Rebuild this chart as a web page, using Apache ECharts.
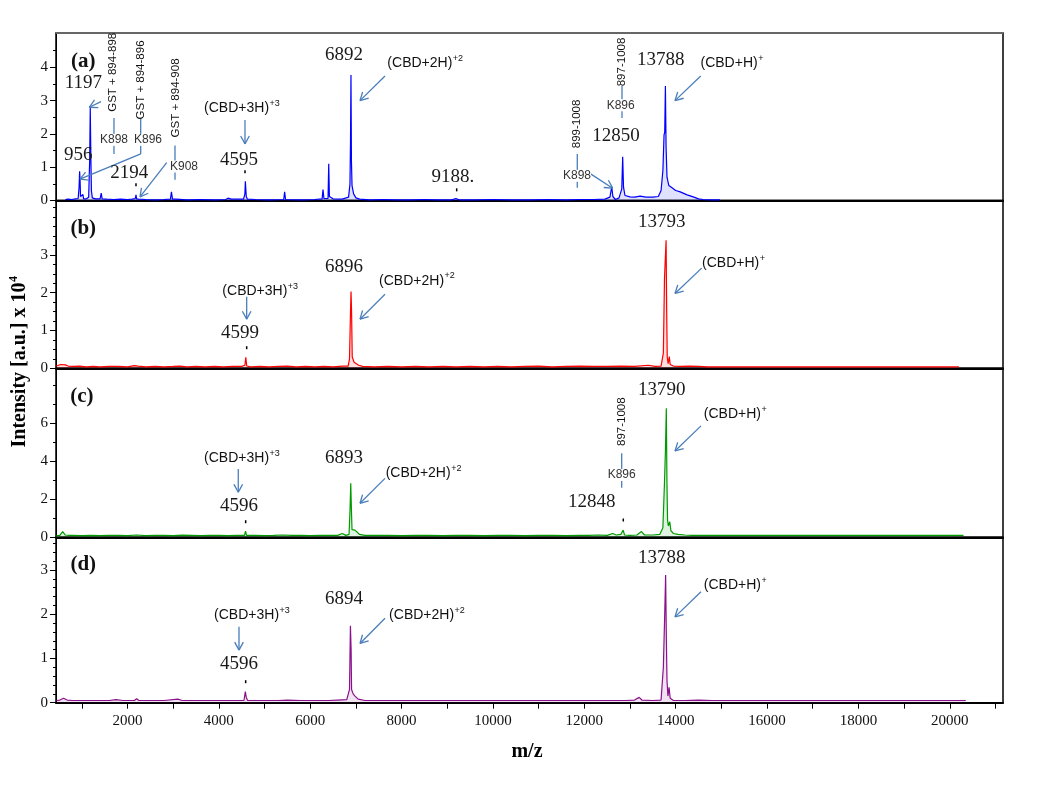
<!DOCTYPE html>
<html><head><meta charset="utf-8">
<script src="https://cdn.jsdelivr.net/npm/echarts@6/dist/echarts.min.js"></script>
<style>html,body{margin:0;padding:0;background:#fff}#c{width:1050px;height:793px}</style>
</head><body><div id="c"></div>
<script>
// ---------- axis values ----------
const mzMin = 435, mzMax = 21165;
const xTickValues = [1000,2000,3000,4000,5000,6000,7000,8000,9000,10000,11000,12000,13000,14000,15000,16000,17000,18000,19000,20000,21000];
const xLabelValues = [2000,4000,6000,8000,10000,12000,14000,16000,18000,20000];
const yMax = [5.03, 4.44, 8.89, 3.74];
const yLabelValues = [[0,1,2,3,4],[0,1,2,3],[0,2,4,6],[0,1,2,3]];
const yMinorValues = [
  [0.5,1.5,2.5,3.5,4.5],
  [0.25,0.5,0.75,1.25,1.5,1.75,2.25,2.5,2.75,3.25,3.5,3.75,4,4.25],
  [1,3,5,7,8],
  [0.2,0.4,0.6,0.8,1.2,1.4,1.6,1.8,2.2,2.4,2.6,2.8,3.2,3.4,3.6]
];
const panelNames = ['(a)','(b)','(c)','(d)'];
const panelNamePos = [[1032,4.16],[1032,3.70],[1000,7.40],[1032,3.12]];
const colors = ['#0000ff','#ff0000','#009a00','#8b108b'];

// ---------- spectra [m/z, intensity x1e4] ----------
const specA = [[640,0.03],[700,0.04],[780,0.03],[860,0.05],[920,0.06],[940,0.4],[952,0.88],[962,0.6],[972,0.12],[1000,0.06],[1025,0.18],[1040,0.05],[1100,0.05],[1150,0.1],[1172,1.2],[1185,2.8],[1197,1.4],[1210,0.3],[1230,0.08],[1300,0.05],[1400,0.05],[1425,0.22],[1445,0.05],[1550,0.04],[1700,0.03],[1850,0.04],[2000,0.03],[2100,0.04],[2170,0.06],[2186,0.17],[2200,0.05],[2245,0.04],[2258,0.1],[2272,0.03],[2400,0.03],[2600,0.02],[2800,0.03],[2940,0.04],[2962,0.26],[2985,0.04],[3060,0.04],[3077,0.1],[3095,0.03],[3300,0.02],[3600,0.03],[3900,0.02],[4150,0.03],[4200,0.07],[4215,0.03],[4270,0.04],[4282,0.1],[4300,0.03],[4540,0.04],[4570,0.2],[4580,0.58],[4600,0.12],[4625,0.04],[4800,0.03],[5100,0.02],[5420,0.03],[5440,0.26],[5460,0.03],[5800,0.02],[6100,0.03],[6260,0.05],[6280,0.33],[6300,0.06],[6390,0.06],[6405,1.1],[6420,0.12],[6500,0.05],[6700,0.04],[6840,0.1],[6870,0.5],[6882,1.8],[6892,3.77],[6902,1.2],[6915,0.45],[6950,0.2],[7000,0.08],[7080,0.04],[7300,0.02],[7600,0.03],[7900,0.02],[8200,0.02],[8500,0.03],[8800,0.02],[9100,0.02],[9188,0.06],[9260,0.02],[9600,0.02],[10000,0.03],[10400,0.02],[10800,0.02],[11200,0.03],[11600,0.02],[11900,0.03],[12200,0.03],[12450,0.04],[12560,0.1],[12600,0.41],[12625,0.12],[12680,0.03],[12760,0.08],[12820,0.35],[12840,1.31],[12858,0.4],[12890,0.15],[13000,0.11],[13100,0.1],[13220,0.13],[13350,0.1],[13500,0.1],[13620,0.12],[13680,0.3],[13720,0.9],[13745,1.97],[13760,2.05],[13775,3.44],[13790,1.6],[13810,0.7],[13850,0.45],[13920,0.38],[14000,0.3],[14100,0.26],[14250,0.17],[14400,0.1],[14500,0.05],[14600,0.03],[14800,0.02],[14970,0.02]];
const specB = [[440,0.06],[480,0.05],[540,0.1],[580,0.14],[640,0.09],[700,0.06],[800,0.05],[950,0.06],[1100,0.04],[1250,0.05],[1400,0.04],[1600,0.05],[1800,0.05],[2000,0.04],[2150,0.07],[2190,0.11],[2230,0.06],[2400,0.04],[2600,0.05],[2800,0.04],[3000,0.05],[3150,0.06],[3300,0.04],[3500,0.05],[3700,0.04],[3900,0.05],[4100,0.04],[4300,0.05],[4500,0.05],[4570,0.08],[4590,0.29],[4610,0.06],[4700,0.04],[4900,0.05],[5100,0.04],[5300,0.05],[5500,0.06],[5700,0.04],[5900,0.05],[6100,0.04],[6300,0.05],[6500,0.04],[6700,0.06],[6830,0.06],[6860,0.25],[6878,1.3],[6893,2.03],[6905,1.5],[6920,0.3],[6960,0.16],[7010,0.12],[7060,0.08],[7150,0.05],[7400,0.04],[7700,0.05],[8000,0.04],[8300,0.05],[8600,0.04],[8900,0.05],[9200,0.04],[9500,0.05],[9800,0.04],[10100,0.05],[10400,0.04],[10700,0.05],[11000,0.06],[11300,0.04],[11600,0.05],[11900,0.06],[12200,0.05],[12500,0.05],[12800,0.06],[13100,0.05],[13400,0.08],[13550,0.05],[13680,0.06],[13730,0.4],[13755,2.38],[13770,2.4],[13790,3.39],[13803,1.5],[13815,0.3],[13835,0.12],[13860,0.31],[13880,0.1],[13950,0.06],[14100,0.05],[14300,0.06],[14500,0.05],[14700,0.04],[15000,0.04],[15500,0.04],[16000,0.04],[16500,0.04],[17000,0.04],[17500,0.04],[18000,0.04],[18500,0.04],[19000,0.04],[19500,0.04],[20000,0.04],[20200,0.04]];
const specC = [[440,0.08],[520,0.1],[580,0.3],[640,0.12],[720,0.1],[800,0.1],[1000,0.09],[1200,0.1],[1400,0.09],[1600,0.1],[1800,0.1],[2000,0.09],[2200,0.12],[2400,0.09],[2600,0.1],[2800,0.1],[3000,0.09],[3200,0.11],[3400,0.1],[3600,0.09],[3800,0.1],[4000,0.1],[4200,0.09],[4400,0.1],[4560,0.1],[4585,0.33],[4605,0.1],[4800,0.1],[5000,0.09],[5200,0.1],[5400,0.12],[5600,0.1],[5800,0.1],[6000,0.09],[6200,0.1],[6400,0.1],[6600,0.1],[6700,0.2],[6780,0.1],[6850,0.15],[6872,1.5],[6887,2.84],[6900,1.6],[6915,0.4],[6980,0.38],[7020,0.3],[7080,0.15],[7200,0.1],[7400,0.1],[7700,0.1],[8000,0.09],[8300,0.1],[8600,0.1],[8900,0.09],[9200,0.1],[9500,0.1],[9800,0.09],[10100,0.1],[10400,0.1],[10700,0.09],[11000,0.1],[11300,0.1],[11600,0.09],[11900,0.1],[12100,0.1],[12300,0.12],[12500,0.1],[12620,0.2],[12700,0.12],[12800,0.15],[12850,0.38],[12880,0.12],[13000,0.1],[13150,0.12],[13250,0.3],[13320,0.12],[13500,0.12],[13650,0.15],[13720,0.5],[13755,2.9],[13775,4.5],[13795,6.79],[13808,3.0],[13822,0.9],[13840,0.6],[13870,0.82],[13895,0.35],[13950,0.2],[14050,0.15],[14200,0.12],[14350,0.1],[14600,0.1],[15000,0.1],[15500,0.1],[16000,0.1],[16500,0.1],[17000,0.1],[17500,0.1],[18000,0.1],[18500,0.1],[19000,0.1],[19500,0.1],[20000,0.1],[20300,0.1]];
const specD = [[440,0.05],[520,0.06],[600,0.1],[680,0.06],[800,0.05],[1000,0.05],[1200,0.05],[1400,0.05],[1600,0.05],[1750,0.07],[1900,0.05],[2150,0.05],[2200,0.09],[2250,0.05],[2500,0.05],[2800,0.05],[3100,0.08],[3200,0.05],[3500,0.05],[3800,0.05],[4100,0.05],[4400,0.05],[4550,0.05],[4580,0.25],[4600,0.12],[4630,0.05],[4800,0.05],[5100,0.05],[5300,0.05],[5500,0.06],[5800,0.05],[6100,0.05],[6400,0.05],[6600,0.06],[6800,0.07],[6860,0.3],[6880,1.74],[6895,1.2],[6905,0.3],[6940,0.2],[6980,0.15],[7050,0.08],[7200,0.05],[7500,0.05],[7800,0.05],[8100,0.05],[8400,0.05],[8700,0.05],[9000,0.05],[9300,0.05],[9600,0.05],[9900,0.05],[10200,0.05],[10500,0.05],[10800,0.05],[11100,0.05],[11400,0.05],[11700,0.05],[12000,0.05],[12300,0.05],[12600,0.05],[12900,0.05],[13100,0.06],[13200,0.12],[13260,0.06],[13500,0.05],[13680,0.06],[13730,0.8],[13760,2.0],[13780,2.89],[13795,1.5],[13810,0.5],[13830,0.15],[13855,0.35],[13880,0.1],[13950,0.05],[14200,0.05],[14500,0.06],[14800,0.05],[15000,0.05],[15500,0.05],[16000,0.05],[16500,0.05],[17000,0.05],[17500,0.05],[18000,0.05],[18500,0.05],[19000,0.05],[19500,0.05],[20000,0.05],[20350,0.05]];
const spectra = [specA, specB, specC, specD];

// ---------- annotations [panel, text, m/z, intensity] ----------
const numLabels = [
  [0,'1197',1032,3.52],[0,'956',923,1.37],[0,'2194',2039,0.82],[0,'4595',4441,1.22],[0,'6892',6739,4.37],[0,'9188.',9125,0.71],[0,'12850',12693,1.94],[0,'13788',13672,4.22],
  [1,'4599',4463,0.93],[1,'6896',6739,2.69],[1,'13793',13694,3.88],
  [2,'4596',4441,1.66],[2,'6893',6739,4.19],[2,'13790',13694,7.75],[2,'12848',12161,1.87],
  [3,'4596',4441,0.87],[3,'6894',6739,2.35],[3,'13788',13694,3.27]
];
const ionLabels = [
  [0,'(CBD+3H)','+3',4500,2.77],[0,'(CBD+2H)','+2',8512,4.12],[0,'(CBD+H)','+',15226,4.12],
  [1,'(CBD+3H)','+3',4900,2.03],[1,'(CBD+2H)','+2',8331,2.31],[1,'(CBD+H)','+',15261,2.78],
  [2,'(CBD+3H)','+3',4500,4.16],[2,'(CBD+2H)','+2',8475,3.37],[2,'(CBD+H)','+',15298,6.47],
  [3,'(CBD+3H)','+3',4719,1.98],[3,'(CBD+2H)','+2',8550,1.98],[3,'(CBD+H)','+',15298,2.66]
];
const vertLabels = [
  [0,'GST + 894-898',1689,3.85],[0,'GST + 894-896',2289,3.62],[0,'GST + 894-908',3062,3.08],[0,'899-1008',11846,2.30],[0,'897-1008',12825,4.16],
  [2,'897-1008',12818,6.08]
];
const kLabels = [
  [0,'K898',1704,1.82],[0,'K896',2449,1.82],[0,'K908',3237,1.02],[0,'K898',11840,0.74],[0,'K896',12796,2.86],
  [2,'K896',12818,3.28]
];
const siteLines = [ // [panel, mz1, v1, mz2, v2]
  [0,1704,2.48,1704,1.40],[0,2289,2.48,2289,1.40],[0,3040,1.65,3040,0.62],[0,11846,1.40,11846,0.38],[0,12825,3.44,12825,2.48],
  [2,12818,4.42,12818,2.61]
];
const arrows = [ // [panel, fromMz, fromV, toMz, toV]
  [0,1420,2.97,1164,2.80],[0,2289,1.40,960,0.64],[0,2858,1.14,2274,0.11],[0,4572,2.42,4572,1.70],[0,7637,3.74,7090,3.0],[0,12121,0.815,12621,0.37],[0,14548,3.74,13985,3.0],
  [1,4609,1.89,4609,1.30],[1,7637,1.96,7090,1.30],[1,14569,2.65,13985,1.98],
  [2,4425,3.59,4425,2.37],[2,7637,3.1,7090,1.79],[2,14554,5.86,13985,4.54],
  [3,4441,1.72,4441,1.19],[3,7637,1.91,7090,1.34],[3,14554,2.51,13985,1.94]
];
const dots = [[0,2186,0.47],[0,4572,0.86],[0,9206,0.32],[1,4609,0.545],[2,4587,0.82],[2,12853,0.91],[3,4587,0.475]];

// ---------- chart ----------
const SERIF = '"Liberation Serif","Times New Roman",serif';
const SANS = '"Liberation Sans",Arial,sans-serif';
const gridBoxes = [[33,167.5],[200.5,167.8],[368.3,169],[537.3,165.4]];
const chart = echarts.init(document.getElementById('c'), null, {renderer:'canvas'});
const grids = gridBoxes.map(([t,h]) => ({left:56, right:47, top:t, height:h, show:true, borderColor:'#000', borderWidth:1.5, backgroundColor:'transparent'}));
const xAxes = [0,1,2,3].map(i => ({
  type:'value', gridIndex:i, min:mzMin, max:mzMax,
  axisLine:{show:true, onZero:false, lineStyle:{color:'#000', width:2}},
  axisTick:{show:i===3, customValues:xTickValues, length:6, lineStyle:{color:'#000', width:1}},
  axisLabel:{show:i===3, customValues:xLabelValues, formatter:v => String(v), fontFamily:SERIF, fontSize:15, color:'#111', margin:11},
  splitLine:{show:false}
}));
const yAxes = [];
[0,1,2,3].forEach(i => {
  yAxes.push({type:'value', gridIndex:i, min:0, max:yMax[i], position:'left',
    axisLine:{show:true, lineStyle:{color:'#000', width:1}},
    axisTick:{show:true, customValues:yLabelValues[i], length:6, lineStyle:{color:'#000'}},
    axisLabel:{customValues:yLabelValues[i], formatter:v => String(v), fontFamily:SERIF, fontSize:15, color:'#111', margin:8},
    splitLine:{show:false}});
  yAxes.push({type:'value', gridIndex:i, min:0, max:yMax[i], position:'left',
    axisLine:{show:false}, axisLabel:{show:false}, splitLine:{show:false},
    axisTick:{show:true, customValues:yMinorValues[i], length:3, lineStyle:{color:'#000'}}});
});
chart.setOption({
  animation:false,
  backgroundColor:'#fff',
  grid:grids, xAxis:xAxes, yAxis:yAxes,
  series: spectra.map((d,i) => ({type:'line', xAxisIndex:i, yAxisIndex:2*i, data:d, symbol:'none', silent:true,
    lineStyle:{color:colors[i], width:1.2}, areaStyle:{color:colors[i], opacity:0.12}}))
});

const ctx = document.createElement('canvas').getContext('2d');
function tw(t, font){ ctx.font = font; return ctx.measureText(t).width; }
function P(p, m, v){ return chart.convertToPixel({xAxisIndex:p, yAxisIndex:2*p}, [m, v]); }
const ARROW = '#4a7ebb';
const G = [];
// top border gray
const tl = P(0, mzMin, yMax[0]), tr = P(0, mzMax, yMax[0]);
G.push({type:'line', shape:{x1:tl[0], y1:tl[1], x2:tr[0], y2:tr[1]}, style:{stroke:'#666', lineWidth:2}, z:20});

panelNames.forEach((t,i) => {
  const [x,y] = P(i, panelNamePos[i][0], panelNamePos[i][1]);
  G.push({type:'text', x, y, style:{text:t, font:'bold 21px '+SERIF, fill:'#111', align:'center', verticalAlign:'middle'}, z:20});
});
numLabels.forEach(([p,t,m,v]) => {
  const [x,y] = P(p,m,v);
  G.push({type:'text', x, y, style:{text:t, font:'19px '+SERIF, fill:'#1a1a1a', align:'center', verticalAlign:'middle'}, z:20});
});
ionLabels.forEach(([p,t,s,m,v]) => {
  const [x,y] = P(p,m,v);
  const f1 = '14px '+SANS, f2 = '9px '+SANS;
  const w1 = tw(t,f1), w2 = tw(s,f2), left = x - (w1+w2)/2;
  G.push({type:'text', x:left, y, style:{text:t, font:f1, fill:'#111', align:'left', verticalAlign:'middle'}, z:20});
  G.push({type:'text', x:left+w1+0.5, y:y-5, style:{text:s, font:f2, fill:'#111', align:'left', verticalAlign:'middle'}, z:20});
});
siteLines.forEach(([p,m1,v1,m2,v2]) => {
  const a = P(p,m1,v1), b = P(p,m2,v2);
  G.push({type:'line', shape:{x1:a[0],y1:a[1],x2:b[0],y2:b[1]}, style:{stroke:ARROW, lineWidth:1.3}, z:18});
});
vertLabels.forEach(([p,t,m,v]) => {
  const [x,y] = P(p,m,v);
  G.push({type:'text', x, y, rotation:Math.PI/2, style:{text:t, font:'11.5px '+SANS, fill:'#111', align:'center', verticalAlign:'middle'}, z:20});
});
kLabels.forEach(([p,t,m,v]) => {
  const [x,y] = P(p,m,v);
  G.push({type:'text', x, y, style:{text:t, font:'12px '+SANS, fill:'#333', align:'center', verticalAlign:'middle', backgroundColor:'#fff', padding:[0,0]}, z:21});
});
arrows.forEach(([p,m1,v1,m2,v2]) => {
  const a = P(p,m1,v1), b = P(p,m2,v2);
  const ang = Math.atan2(b[1]-a[1], b[0]-a[0]), L = 9, sp = 0.5;
  G.push({type:'line', shape:{x1:a[0],y1:a[1],x2:b[0],y2:b[1]}, style:{stroke:ARROW, lineWidth:1.3}, z:18});
  [-sp, sp].forEach(d => {
    G.push({type:'line', shape:{x1:b[0], y1:b[1], x2:b[0]-L*Math.cos(ang+d), y2:b[1]-L*Math.sin(ang+d)}, style:{stroke:ARROW, lineWidth:1.3}, z:18});
  });
});
dots.forEach(([p,m,v]) => {
  const [x,y] = P(p,m,v);
  G.push({type:'line', shape:{x1:x, y1:y-1.5, x2:x, y2:y+1.5}, style:{stroke:'#000', lineWidth:1.5}, z:18});
});
// axis titles
const fT = 'bold 20px '+SERIF, fS = 'bold 12px '+SERIF;
const yt = 'Intensity [a.u.] x 10', ys = '4';
const wT = tw(yt,fT), wS = tw(ys,fS);
G.push({type:'group', x:20, y:362, rotation:Math.PI/2, children:[
  {type:'text', x:-(wT+wS)/2, y:0, style:{text:yt, font:fT, fill:'#000', align:'left', verticalAlign:'middle'}},
  {type:'text', x:-(wT+wS)/2+wT+0.5, y:-6, style:{text:ys, font:fS, fill:'#000', align:'left', verticalAlign:'middle'}}
]});
G.push({type:'text', x:527, y:752, style:{text:'m/z', font:'bold 20px '+SERIF, fill:'#000', align:'center', verticalAlign:'middle'}});
chart.setOption({graphic:G});
</script>
</body></html>
